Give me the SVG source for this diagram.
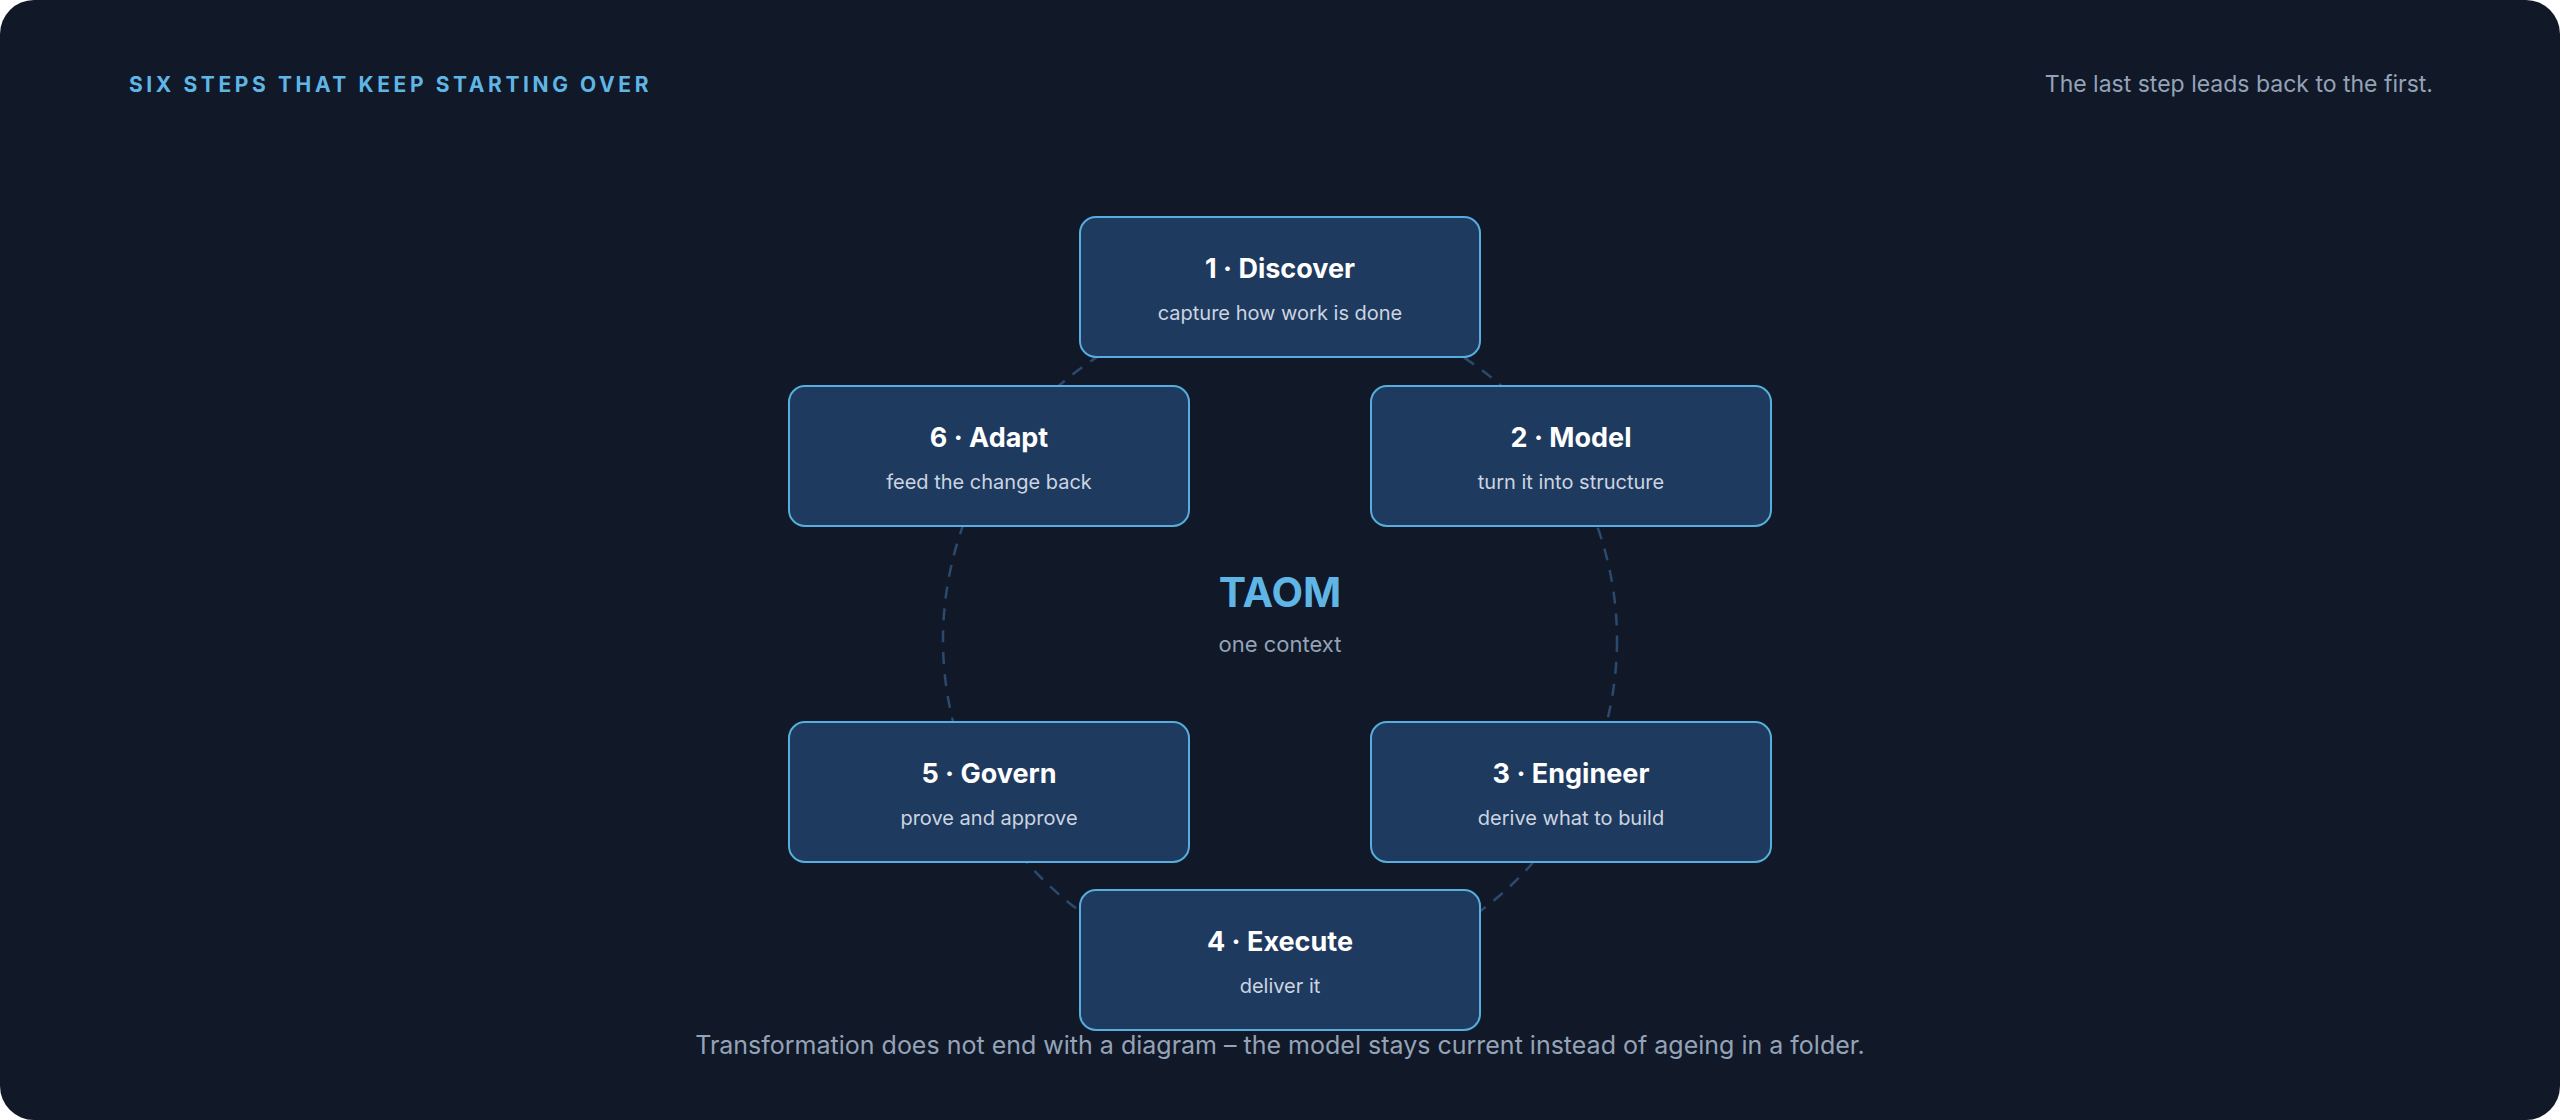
<svg xmlns="http://www.w3.org/2000/svg" width="2560" height="1120" viewBox="0 0 2560 1120">
<style>
text{font-family:Inter,"Liberation Sans",sans-serif}
.box{fill:#1f3a5f;stroke:#56aee0;stroke-width:2}
.t{fill:#ffffff;font-size:27px;font-weight:700;text-anchor:middle}
.s{fill:#cbd5e1;font-size:20px;text-anchor:middle}
</style>
<rect x="0" y="0" width="2560" height="1120" fill="#ffffff"/>
<rect x="0" y="0" width="2560" height="1120" rx="34" fill="#111827"/>
<text x="129" y="92" fill="#5fb6e6" font-size="21" font-weight="700" letter-spacing="3.6">SIX STEPS THAT KEEP STARTING OVER</text>
<text x="2433" y="92" fill="#94a3b8" font-size="23" text-anchor="end">The last step leads back to the first.</text>
<g id="connectors">
<circle cx="1280" cy="640" r="337" fill="none" stroke="#2c4a6e" stroke-width="2.5" stroke-dasharray="12 10"/>
</g>
<g id="n1"><rect class="box" x="1080" y="217" width="400" height="140" rx="16"/><text class="t" x="1280" y="278">1 · Discover</text><text class="s" x="1280" y="320">capture how work is done</text></g>
<g id="n2"><rect class="box" x="1371" y="386" width="400" height="140" rx="16"/><text class="t" x="1571" y="447">2 · Model</text><text class="s" x="1571" y="489">turn it into structure</text></g>
<g id="n3"><rect class="box" x="1371" y="722" width="400" height="140" rx="16"/><text class="t" x="1571" y="783">3 · Engineer</text><text class="s" x="1571" y="825">derive what to build</text></g>
<g id="n4"><rect class="box" x="1080" y="890" width="400" height="140" rx="16"/><text class="t" x="1280" y="951">4 · Execute</text><text class="s" x="1280" y="993">deliver it</text></g>
<g id="n5"><rect class="box" x="789" y="722" width="400" height="140" rx="16"/><text class="t" x="989" y="783">5 · Govern</text><text class="s" x="989" y="825">prove and approve</text></g>
<g id="n6"><rect class="box" x="789" y="386" width="400" height="140" rx="16"/><text class="t" x="989" y="447">6 · Adapt</text><text class="s" x="989" y="489">feed the change back</text></g>
<g id="center"><text x="1280" y="607" fill="#5fb6e6" font-size="41" font-weight="700" text-anchor="middle">TAOM</text><text x="1280" y="652" fill="#94a3b8" font-size="22" text-anchor="middle">one context</text></g>
<text x="1280" y="1054" fill="#94a3b8" font-size="25" text-anchor="middle">Transformation does not end with a diagram – the model stays current instead of ageing in a folder.</text>
</svg>
